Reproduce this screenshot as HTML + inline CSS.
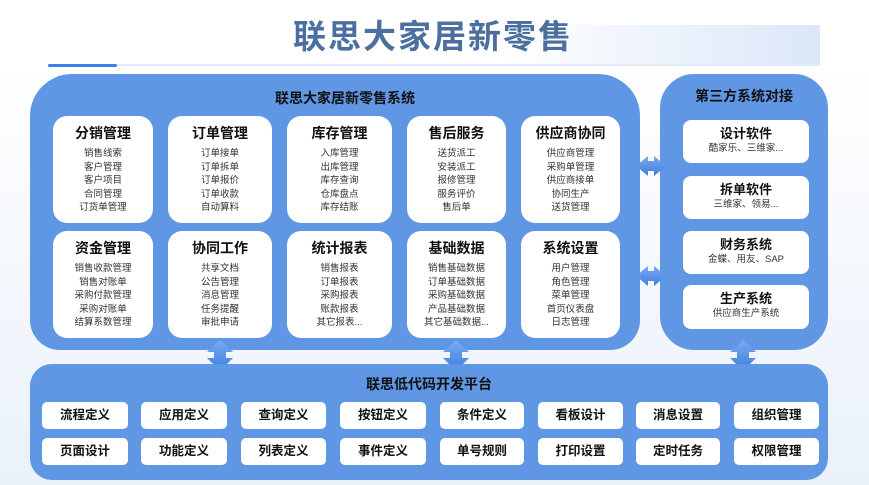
<!DOCTYPE html>
<html><head><meta charset="utf-8"><style>
*{margin:0;padding:0;box-sizing:border-box}
body{width:869px;height:485px;overflow:hidden;background:linear-gradient(#ffffff 0,#ffffff 60px,#eaf1fb 485px);font-family:"Liberation Sans","Noto Sans CJK SC",sans-serif;position:relative}
.abs{position:absolute}
.panel{position:absolute;background:#6097e4}
.card{position:absolute;background:#fff;border-radius:14px;text-align:center;color:#333}
.card h3{font-size:14px;font-weight:bold;color:#111;margin-top:8px;line-height:18px;margin-bottom:5px}
.card p{font-size:9.5px;line-height:13.5px}
.rc{position:absolute;background:#fff;border-radius:8px;text-align:center;left:683px;width:126px;height:43px}
.rc h3{font-size:13px;font-weight:bold;color:#111;line-height:17px;margin-top:5px}
.rc p{font-size:9.5px;color:#333;line-height:13px}
.btn{position:absolute;background:#fff;border-radius:5px;text-align:center;font-size:12.5px;font-weight:bold;color:#111;line-height:27px;height:27px}
</style></head><body>
<div class="abs" style="left:290px;top:25px;width:530px;height:41px;background:linear-gradient(90deg,#fff 40%,#dbe7f8)"></div>
<div class="abs" style="left:48px;top:64px;width:772px;height:2px;background:#e3ebf7"></div>
<div class="abs" style="left:48px;top:64px;width:69px;height:3px;background:#3b82e8;border-radius:2px"></div>
<div class="abs" style="left:293px;top:16px;font-size:33px;font-weight:bold;color:#4b6f9e;letter-spacing:2px;line-height:42px">联思大家居新零售</div>

<div class="panel" style="left:30px;top:74px;width:610px;height:276px;border-radius:42px 42px 30px 30px"></div>
<div class="abs" style="left:30px;top:88px;width:630px;text-align:center;font-size:14px;font-weight:bold;color:#111">联思大家居新零售系统</div>
<div class="panel" style="left:660px;top:74px;width:168px;height:276px;border-radius:34px"></div>
<div class="abs" style="left:660px;top:86px;width:168px;text-align:center;font-size:14px;font-weight:bold;color:#111">第三方系统对接</div>

<div class="card" style="left:53px;top:116px;width:100px;height:107px"><h3>分销管理</h3><p>销售线索<br>客户管理<br>客户项目<br>合同管理<br>订货单管理</p></div>
<div class="card" style="left:168px;top:116px;width:104px;height:107px"><h3>订单管理</h3><p>订单接单<br>订单拆单<br>订单报价<br>订单收款<br>自动算料</p></div>
<div class="card" style="left:287px;top:116px;width:105px;height:107px"><h3>库存管理</h3><p>入库管理<br>出库管理<br>库存查询<br>仓库盘点<br>库存结账</p></div>
<div class="card" style="left:407px;top:116px;width:99px;height:107px"><h3>售后服务</h3><p>送货派工<br>安装派工<br>报修管理<br>服务评价<br>售后单</p></div>
<div class="card" style="left:521px;top:116px;width:99px;height:107px"><h3>供应商协同</h3><p>供应商管理<br>采购单管理<br>供应商接单<br>协同生产<br>送货管理</p></div>

<div class="card" style="left:53px;top:231px;width:100px;height:107px"><h3>资金管理</h3><p>销售收款管理<br>销售对账单<br>采购付款管理<br>采购对账单<br>结算系数管理</p></div>
<div class="card" style="left:168px;top:231px;width:104px;height:107px"><h3>协同工作</h3><p>共享文档<br>公告管理<br>消息管理<br>任务提醒<br>审批申请</p></div>
<div class="card" style="left:287px;top:231px;width:105px;height:107px"><h3>统计报表</h3><p>销售报表<br>订单报表<br>采购报表<br>账款报表<br>其它报表...</p></div>
<div class="card" style="left:407px;top:231px;width:99px;height:107px"><h3>基础数据</h3><p>销售基础数据<br>订单基础数据<br>采购基础数据<br>产品基础数据<br>其它基础数据...</p></div>
<div class="card" style="left:521px;top:231px;width:99px;height:107px"><h3>系统设置</h3><p>用户管理<br>角色管理<br>菜单管理<br>首页仪表盘<br>日志管理</p></div>

<div class="rc" style="top:120px"><h3>设计软件</h3><p>酷家乐、三维家...</p></div>
<div class="rc" style="top:176px"><h3>拆单软件</h3><p>三维家、领易...</p></div>
<div class="rc" style="top:231px"><h3>财务系统</h3><p>金蝶、用友、SAP</p></div>
<div class="rc" style="top:285px;height:44px"><h3>生产系统</h3><p>供应商生产系统</p></div>

<svg class="abs" style="left:0;top:0" width="869" height="485">
<defs><linearGradient id="g" x1="0" y1="0" x2="0" y2="1"><stop offset="0" stop-color="#7aaaf0"/><stop offset="1" stop-color="#3f7fe0"/></linearGradient></defs>
<g fill="url(#g)">
<polygon points="636,166 648,156 648,161 654,161 654,156 666,166 654,176 654,171 648,171 648,176"/>
<polygon points="636,276 648,266 648,271 654,271 654,266 666,276 654,286 654,281 648,281 648,286"/>
<polygon points="220,340 233,352 226,352 226,358 233,358 220,371 207,358 214,358 214,352 207,352"/>
<polygon points="456,340 469,352 462,352 462,358 469,358 456,371 443,358 450,358 450,352 443,352"/>
<polygon points="743,340 756,352 749,352 749,358 756,358 743,371 730,358 737,358 737,352 730,352"/>
</g></svg>

<div class="panel" style="left:30px;top:364px;width:798px;height:116px;border-radius:22px"></div>
<div class="abs" style="left:30px;top:374px;width:798px;text-align:center;font-size:14px;font-weight:bold;color:#111">联思低代码开发平台</div>

<div class="btn" style="left:42px;top:402px;width:86px">流程定义</div>
<div class="btn" style="left:141px;top:402px;width:86px">应用定义</div>
<div class="btn" style="left:241px;top:402px;width:85px">查询定义</div>
<div class="btn" style="left:340px;top:402px;width:86px">按钮定义</div>
<div class="btn" style="left:440px;top:402px;width:84px">条件定义</div>
<div class="btn" style="left:538px;top:402px;width:85px">看板设计</div>
<div class="btn" style="left:636px;top:402px;width:84px">消息设置</div>
<div class="btn" style="left:734px;top:402px;width:85px">组织管理</div>
<div class="btn" style="left:42px;top:438px;width:86px">页面设计</div>
<div class="btn" style="left:141px;top:438px;width:86px">功能定义</div>
<div class="btn" style="left:241px;top:438px;width:85px">列表定义</div>
<div class="btn" style="left:340px;top:438px;width:86px">事件定义</div>
<div class="btn" style="left:440px;top:438px;width:84px">单号规则</div>
<div class="btn" style="left:538px;top:438px;width:85px">打印设置</div>
<div class="btn" style="left:636px;top:438px;width:84px">定时任务</div>
<div class="btn" style="left:734px;top:438px;width:85px">权限管理</div>
</body></html>
